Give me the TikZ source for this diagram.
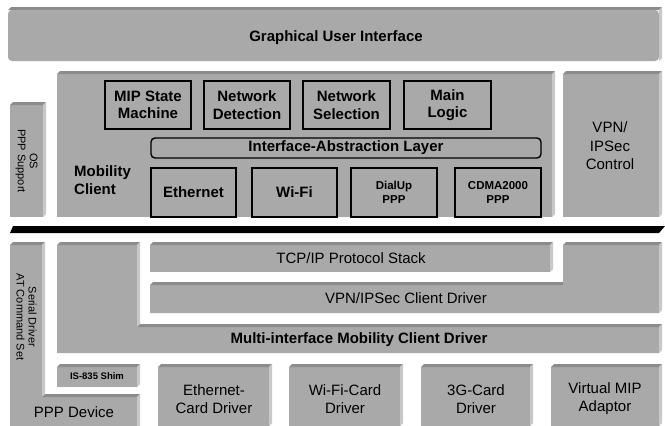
\documentclass[tikz,border=0pt]{standalone}
\usepackage{fontspec}
\setmainfont{Liberation Sans}
\definecolor{fc}{RGB}{169,169,169}
\definecolor{tc}{RGB}{140,140,140}
\definecolor{rc}{RGB}{200,200,200}
\newcommand\bevbox[4]{%
  \fill[fc] (#1,#2+3) rectangle (#3-3,#4);
  \fill[tc] (#1,#2+3) -- (#1+3,#2) -- (#3,#2) -- (#3-3,#2+3) -- cycle;
  \fill[rc] (#3-3,#2+3) -- (#3,#2) -- (#3,#4-3) -- (#3-3,#4) -- cycle;
}
\tikzset{
  bt/.style={font=\bfseries\fontsize{15}{17.5}\selectfont, align=center, inner sep=0pt},
  rt/.style={font=\fontsize{15}{18}\selectfont, align=center, inner sep=0pt},
  st/.style={font=\bfseries\fontsize{11.5}{13.5}\selectfont, align=center, inner sep=0pt},
  vt/.style={font=\fontsize{11}{12}\selectfont, align=center, inner sep=0pt, rotate=-90},
  ibox/.style={draw=black, line width=1.4pt, fill=fc, align=center, inner sep=0pt}
}
\begin{document}
\begin{tikzpicture}[x=1pt,y=-1pt]
\useasboundingbox (0,0) rectangle (665,426);
\fill[white] (0,0) rectangle (665,426);
% GUI
\fill[tc] (8,10) -- (11,7) -- (662,7) -- (659,10) -- cycle;
\fill[rc] (659,10) -- (662,7) -- (662,58) -- (659,61) -- cycle;
\fill[fc, rounded corners=4pt] (8,10) rectangle (659,61);
\node[bt] (gui) at (336,38) {Graphical User Interface};
% upper boxes
\bevbox{57}{71}{555}{217}
\bevbox{10}{102}{46}{217}
\bevbox{563}{71}{662}{217}
\node[vt] (os) at (26.5,161) {OS\\PPP Support};
\node[rt, font=\fontsize{15}{18.5}\selectfont] (vpnc) at (610,146) {VPN/\\IPSec\\Control};
\node[bt, anchor=west, align=left] (mc) at (74,180) {Mobility\\Client};
\node[ibox, bt, minimum width=86, minimum height=48] (mip) at (148,105) {MIP State\\Machine};
\node[ibox, bt, minimum width=86, minimum height=48] (ndet) at (247,105) {Network\\Detection};
\node[ibox, bt, minimum width=87, minimum height=48] (nsel) at (346.5,105) {Network\\Selection};
\node[ibox, bt, minimum width=87, minimum height=48] (ml) at (447.5,105) {Main\\Logic};
\node[ibox, bt, rounded corners=4pt, minimum width=390, minimum height=20] (ial) at (346,148) {Interface-Abstraction Layer};
\node[ibox, bt, minimum width=85, minimum height=49] (eth) at (193.5,192.5) {Ethernet};
\node[ibox, bt, minimum width=85, minimum height=49] (wifi) at (294.5,192.5) {Wi-Fi};
\node[ibox, st, minimum width=86, minimum height=49] (dial) at (394,192.5) {DialUp\\PPP};
\node[ibox, st, minimum width=86, minimum height=49] (cdma) at (498,192.5) {CDMA2000\\PPP};
% black bar
\fill[black] (10,233) -- (13,226) -- (665,226) -- (659,233) -- cycle;
% Serial driver / PPP device L
\fill[fc] (10,245) -- (42,245) -- (42,397) -- (137,397) -- (137,426) -- (10,426) -- cycle;
\fill[tc] (10,245) -- (13,242) -- (45,242) -- (42,245) -- cycle;
\fill[rc] (42,245) -- (45,242) -- (45,394) -- (42,397) -- cycle;
\fill[tc] (42,397) -- (45,394) -- (140,394) -- (137,397) -- cycle;
\fill[rc] (137,397) -- (140,394) -- (140,426) -- (137,426) -- cycle;
\node[vt] (serial) at (26.5,317) {Serial Driver\\AT Command Set};
\node[rt] (ppp) at (74,412) {PPP Device};
% TCP/IP
\bevbox{150}{242}{553}{272}
\node[rt] (tcp) at (351,258) {TCP/IP Protocol Stack};
% VPN/IPSec client driver reverse L
\fill[fc] (150,285) -- (563,285) -- (563,245) -- (659,245) -- (659,313) -- (150,313) -- cycle;
\fill[tc] (150,285) -- (153,282) -- (563,282) -- (563,285) -- cycle;
\fill[tc] (563,245) -- (566,242) -- (662,242) -- (659,245) -- cycle;
\fill[rc] (659,245) -- (662,242) -- (662,310) -- (659,313) -- cycle;
\node[rt] (vpnd) at (406,298) {VPN/IPSec Client Driver};
% Multi-interface L
\fill[fc] (57,245) -- (137,245) -- (137,327) -- (659,327) -- (659,353) -- (57,353) -- cycle;
\fill[tc] (57,245) -- (60,242) -- (140,242) -- (137,245) -- cycle;
\fill[rc] (137,245) -- (140,242) -- (140,324) -- (137,327) -- cycle;
\fill[tc] (137,327) -- (140,324) -- (662,324) -- (659,327) -- cycle;
\fill[rc] (659,327) -- (662,324) -- (662,350) -- (659,353) -- cycle;
\node[bt] (mimc) at (359,340) {Multi-interface Mobility Client Driver};
% bottom row
\bevbox{57}{364}{140}{387}
\node[font=\bfseries\fontsize{9.5}{11}\selectfont, inner sep=0pt] (shim) at (97,376.5) {IS-835 Shim};
\bevbox{158}{364}{272}{426}
\bevbox{289}{364}{403}{426}
\bevbox{421}{364}{533}{426}
\bevbox{551}{364}{662}{426}
\node[rt] (ecd) at (214,399) {Ethernet-\\Card Driver};
\node[rt] (wcd) at (345,399) {Wi-Fi-Card\\Driver};
\node[rt] (gcd) at (476,399) {3G-Card\\Driver};
\node[rt] (vmip) at (605,399) {Virtual MIP\\Adaptor};
\end{tikzpicture}
\end{document}
